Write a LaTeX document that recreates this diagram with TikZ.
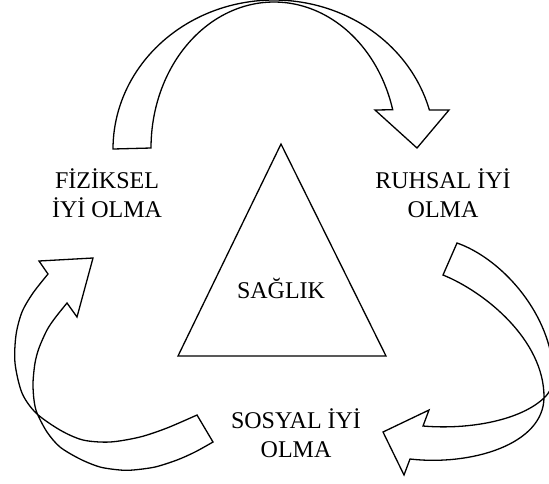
\documentclass[tikz,border=0pt]{standalone}
\usepackage{fontspec}
\setmainfont{Liberation Serif}
\begin{document}
\begin{tikzpicture}[x=0.5pt,y=-0.5pt,
  shapeline/.style={draw=black, line width=0.65pt, line join=miter},
  lbl/.style={font=\fontsize{12}{14.5}\selectfont, align=center, inner sep=0pt, anchor=base}]
\useasboundingbox (0,0) rectangle (549,483);
\clip (0,0) rectangle (549,483);
% top curved arrow
\draw[shapeline] plot[domain=180:15.2, samples=90, variable=\t] ({274+161*cos(\t)},{149-149*sin(\t)})
  -- (449,110) -- (417,148) -- (375,110)
  -- plot[domain=15.2:180, samples=90, variable=\t] ({274+123*cos(\t)},{148-146*sin(\t)}) -- cycle;
% right curved arrow
\draw[shapeline] (457,243) .. controls (500,258) and (548,310) .. (553,368)
  .. controls (554,383) and (551,391) .. (545,397)
  .. controls (522,420) and (470,430) .. (423,426)
  -- (429,410) -- (383,432) -- (404,475) -- (410,459)
  .. controls (470,466) and (544,445) .. (544,397)
  .. controls (544,340) and (485,292) .. (443,275) -- cycle;
% left curved arrow
\draw[shapeline] plot[smooth] coordinates {(197,415) (167,428) (140,437) (110,442) (83,440) (60,430) (36,413) (22,393) (15,363) (16,335) (22,312) (33,293) (48,274)}
  -- (39,261) -- (93,258) -- (77,317)
  -- plot[smooth] coordinates {(67,303) (55,318) (47,330) (39,348) (35,363) (33,383) (34,400) (37,413) (47,432) (60,447) (80,459) (100,467) (120,470) (133,470) (155,467) (177,460) (195,452) (213,442)} -- cycle;
% triangle
\draw[shapeline] (281,144) -- (386,356) -- (178,356) -- cycle;
% labels
\node[lbl] (saglik) at (281,298) {SAĞLIK};
\node[lbl] (fiziksel) at (107,217) {FİZİKSEL\\İYİ OLMA};
\node[lbl] (ruhsal) at (443,217) {RUHSAL İYİ\\OLMA};
\node[lbl] (sosyal) at (296,457) {SOSYAL İYİ\\OLMA};
\end{tikzpicture}
\end{document}
